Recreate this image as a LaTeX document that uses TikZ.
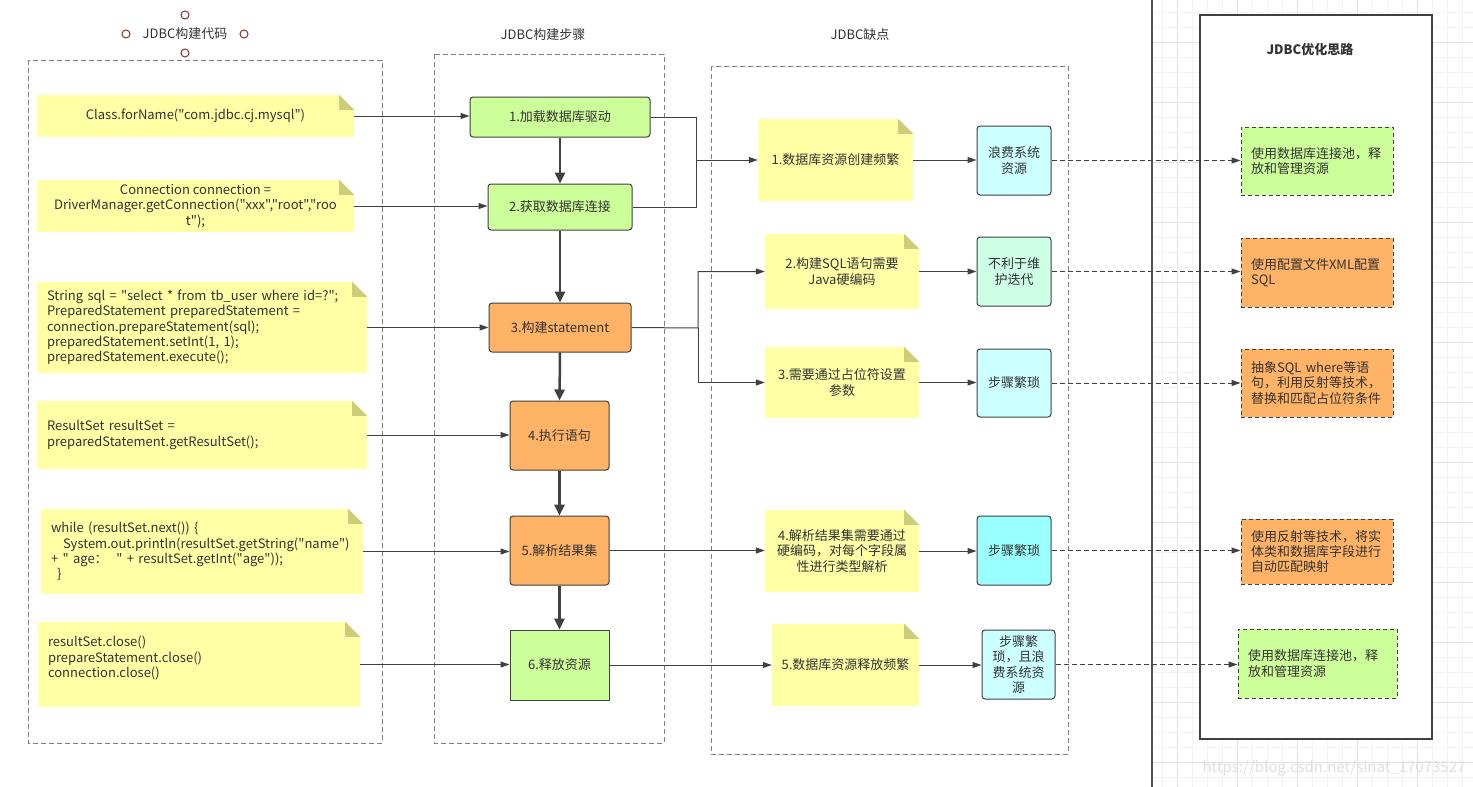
\documentclass[tikz,border=0pt]{standalone}
\usepackage{fontspec}
\setmainfont{Noto Sans CJK SC}[Ligatures=TeXOff]
\usetikzlibrary{arrows.meta,positioning}

\definecolor{notey}{HTML}{FFFFA6}
\definecolor{foldy}{HTML}{CDCD79}
\definecolor{stepg}{HTML}{CCFF99}
\definecolor{stepo}{HTML}{FFB366}
\definecolor{resc}{HTML}{CCFFFF}
\definecolor{resm}{HTML}{CCFFE6}
\definecolor{resb}{HTML}{99FFFF}
\definecolor{linec}{HTML}{404040}
\definecolor{textc}{HTML}{333333}
\definecolor{gridminor}{HTML}{F2F2F2}
\definecolor{gridmajor}{HTML}{E3E3E3}
\definecolor{handle}{HTML}{8E2C2C}

\tikzset{
  base/.style={font=\fontsize{13pt}{15.3pt}\selectfont, text=textc, inner sep=0pt},
  note/.style={base, fill=notey, align=center},
  codenote/.style={note, align=left, inner xsep=10pt},
  stepbox/.style={base, draw=linec, line width=1pt, rounded corners=3pt, align=center},
  resbox/.style={base, draw=linec, line width=1pt, rounded corners=3pt, align=center},
  optbox/.style={base, draw=linec, line width=1pt, dash pattern=on 4pt off 3pt, align=left, inner xsep=10pt},
  group/.style={draw=gray, line width=1pt, dash pattern=on 5pt off 3pt},
  link/.style={draw=linec, line width=1pt, -{Triangle[length=9pt,width=6pt]}},
  flow/.style={draw=linec, line width=2.5pt, -{Triangle[length=11pt,width=10pt]}},
  hint/.style={draw=linec, line width=1pt, dash pattern=on 5pt off 3pt, -{Triangle[length=9pt,width=6pt]}},
}

\begin{document}
\begin{tikzpicture}[x=1pt,y=-1pt]
    \useasboundingbox (0,0) rectangle (1473,787);
    \fill[white] (0,0) rectangle (1473,787);

    \begin{scope}
        \clip (1152,0) rectangle (1473,787);
        \foreach \x in {0,...,21}
            \draw[gridminor] (1161.7+15*\x,0) -- ++(0,787);
        \foreach \y in {0,...,52}
            \draw[gridminor] (1152,11.7+15*\y) -- ++(321,0);
        \foreach \x in {0,...,5}
            \draw[gridmajor] (1176.7+60*\x,0) -- ++(0,787);
        \foreach \y in {0,...,12}
            \draw[gridmajor] (1152,41.7+60*\y) -- ++(321,0);
    \end{scope}
    \draw[linec!90, line width=2pt] (1152,0) -- (1152,787);
    \draw[linec, line width=2pt, fill=white] (1200,15) rectangle (1432,739);

    \draw[group] (28,60) rectangle (382,743);
    \draw[group] (434,54) rectangle (664,743);
    \draw[group] (711,66) rectangle (1068,754);

    \node[base] (t1) at (185,34) {JDBC构建代码};
    \node[base] (t2) at (543,35) {JDBC构建步骤};
    \node[base] (t3) at (860,35) {JDBC缺点};
    \node[base, font=\fontsize{13pt}{15pt}\selectfont\bfseries] (t4) at (1310,50) {JDBC优化思路};
    \foreach \p in {(185,15),(126,34),(244,34),(185,53)}
        \draw[handle, line width=1pt] \p circle (4pt);

    \node[note, minimum width=317pt, minimum height=42pt] (c1) at (195.5,116) {Class.forName("com.jdbc.cj.mysql")};
    \node[note, minimum width=317pt, minimum height=52pt] (c2) at (195.5,206) {Connection connection =\\DriverManager.getConnection("xxx","root","roo\\t");};
    \node[codenote, text width=310pt, minimum height=91pt] (c3) at (202,327.5) {String sql = "select * from tb\_user where id=?";\\PreparedStatement preparedStatement =\\connection.prepareStatement(sql);\\preparedStatement.setInt(1, 1);\\preparedStatement.execute();};
    \node[codenote, text width=310pt, minimum height=68pt] (c4) at (202,435) {ResultSet resultSet =\\preparedStatement.getResultSet();};
    \node[codenote, text width=302pt, minimum height=85pt] (c5) at (202,551.5) {while (resultSet.next()) \{\\\hspace*{12pt}System.out.println(resultSet.getString("name")\\+ " age：~~" + resultSet.getInt("age"));\\\hspace*{6pt}\}};
    \node[codenote, text width=302pt, minimum height=85pt] (c6) at (199,664.5) {resultSet.close()\\prepareStatement.close()\\connection.close()\\~};

    \node[stepbox, fill=stepg, minimum width=180pt, minimum height=40pt] (s1) at (560,117) {1.加载数据库驱动};
    \node[stepbox, fill=stepg, minimum width=144pt, minimum height=46pt] (s2) at (560,207) {2.获取数据库连接};
    \node[stepbox, fill=stepo, minimum width=142pt, minimum height=49pt] (s3) at (560,327.5) {3.构建statement};
    \node[stepbox, fill=stepo, minimum width=99pt, minimum height=69pt] (s4) at (559.5,435.5) {4.执行语句};
    \node[stepbox, fill=stepo, minimum width=99pt, minimum height=69pt] (s5) at (559.5,550.5) {5.解析结果集};
    \node[stepbox, sharp corners, fill=stepg, minimum width=99pt, minimum height=70pt] (s6) at (559.5,665) {6.释放资源};

    \node[note, minimum width=155pt, minimum height=82pt] (n1) at (835.5,160) {1.数据库资源创建频繁};
    \node[note, minimum width=154pt, minimum height=75pt] (n2) at (842,271.5) {2.构建SQL语句需要\\Java硬编码};
    \node[note, minimum width=154pt, minimum height=71pt] (n3) at (842,382.5) {3.需要通过占位符设置\\参数};
    \node[note, minimum width=154pt, minimum height=82pt] (n4) at (842,551) {4.解析结果集需要通过\\硬编码，对每个字段属\\性进行类型解析};
    \node[note, minimum width=147pt, minimum height=82pt] (n5) at (845.5,665) {5.数据库资源释放频繁};

    \foreach \n in {c1,c2,c3,c4,c5,c6,n1,n2,n3,n4,n5}{
        \fill[white] ([xshift=-15pt]\n.north east) -- (\n.north east) -- ([yshift=-15pt]\n.north east) -- cycle;
        \fill[foldy] ([xshift=-15pt]\n.north east) -- ([yshift=-15pt]\n.north east) -- ([xshift=-15pt,yshift=-15pt]\n.north east) -- cycle;
    }

    \node[resbox, fill=resc, minimum width=74pt, minimum height=69pt] (r1) at (1014,160.5) {浪费系统\\资源};
    \node[resbox, fill=resm, minimum width=74pt, minimum height=69pt] (r2) at (1014,271.5) {不利于维\\护迭代};
    \node[resbox, fill=resc, minimum width=74pt, minimum height=68pt] (r3) at (1014,383) {步骤繁琐};
    \node[resbox, fill=resb, minimum width=74pt, minimum height=69pt] (r4) at (1014,550.5) {步骤繁琐};
    \node[resbox, fill=resc, minimum width=73pt, minimum height=69pt] (r5) at (1018.5,664.5) {步骤繁\\琐，且浪\\费系统资\\源};

    \node[optbox, fill=stepg, text width=132pt, minimum height=68pt] (o1) at (1317,161) {使用数据库连接池，释\\放和管理资源};
    \node[optbox, fill=stepo, text width=132pt, minimum height=69pt] (o2) at (1317,272.5) {使用配置文件XML配置\\SQL};
    \node[optbox, fill=stepo, text width=132pt, minimum height=68pt] (o3) at (1317,383) {抽象SQL where等语\\句，利用反射等技术，\\替换和匹配占位符条件};
    \node[optbox, fill=stepo, text width=132pt, minimum height=65pt] (o4) at (1317,551.5) {使用反射等技术，将实\\体类和数据库字段进行\\自动匹配映射};
    \node[optbox, fill=stepg, text width=139pt, minimum height=69pt] (o5) at (1317.5,663.5) {使用数据库连接池，释\\放和管理资源};

    \foreach \a/\b in {s1/s2,s2/s3,s3/s4,s4/s5,s5/s6}
        \draw[flow] (\a.south) -- (\b.north);
    \foreach \c/\s in {c1/s1,c2/s2,c3/s3,c4/s4,c5/s5,c6/s6}
        \draw[link] (\c.east) -- (\s.west |- \c.east);

    \coordinate (j1) at (696,160);
    \draw[link] (s1.east) -| (j1) -- (n1.west);
    \draw[draw=linec, line width=1pt] (s2.east) -| (j1);
    \coordinate (j2) at (698,328);
    \draw[link] (s3.east) -- (j2) |- (n2.west);
    \draw[link] (j2) |- (n3.west);
    \draw[link] (s5.east) -- (n4.west |- s5.east);
    \draw[link] (s6.east) -- (n5.west |- s6.east);

    \foreach \i in {1,...,5}
        \draw[link] (n\i.east) -- (r\i.west |- n\i.east);
    \foreach \i in {1,...,5}
        \draw[hint] (r\i.east) -- (o\i.west |- r\i.east);

    \node[font=\fontsize{15pt}{15pt}\selectfont, text=gray!25, inner sep=0pt] (wm) at (1334,768) {https://blog.csdn.net/sinat\_17073527};
\end{tikzpicture}
\end{document}
